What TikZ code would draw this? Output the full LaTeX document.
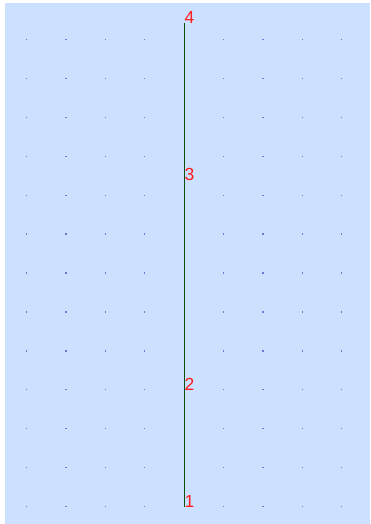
\documentclass[tikz,border=0pt]{standalone}
\usepackage{fontspec}
\setmainfont{Liberation Sans}
\definecolor{bgblue}{RGB}{204,224,255}
\definecolor{dotcol}{RGB}{110,120,210}
\definecolor{linegreen}{RGB}{10,80,10}
\definecolor{labred}{RGB}{255,30,30}
\tikzset{
  ptlabel/.style={anchor=base west, inner sep=0pt, text=labred, font=\fontsize{17.5}{17.5}\selectfont},
  gdot/.style={fill=dotcol}
}
\begin{document}
\begin{tikzpicture}[x=1pt,y=-1pt]
\useasboundingbox (0,0) rectangle (370,524);
\fill[bgblue] (5,3) rectangle (370,524);
\foreach \i in {0,...,8}{
  \foreach \j in {0,...,12}{
    \fill[gdot] ({26.7+39.38*\i-0.6},{39.3+38.95*\j-0.6}) rectangle +(1.2,1.2);
  }
}
\coordinate (p1) at (184.3,507);
\coordinate (p2) at (184.3,390.5);
\coordinate (p3) at (184.3,180);
\coordinate (p4) at (184.3,23.5);
\draw[linegreen, line width=1.2pt] (p1) -- (p2) -- (p3) -- (p4);
\node[ptlabel] (l1) at (p1) {1};
\node[ptlabel] (l2) at (p2) {2};
\node[ptlabel] (l3) at (p3) {3};
\node[ptlabel] (l4) at (p4) {4};
\end{tikzpicture}
\end{document}
